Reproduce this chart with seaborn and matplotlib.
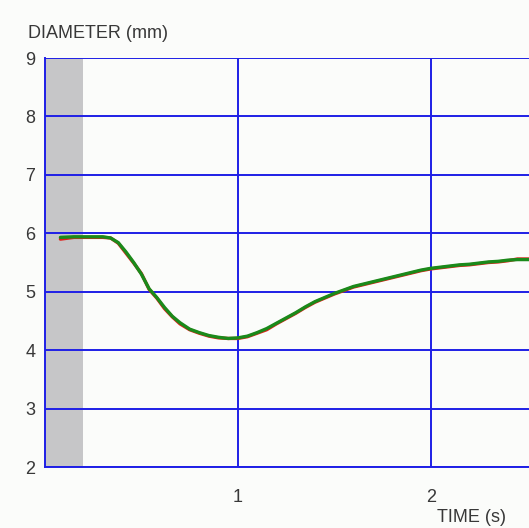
import numpy as np
import pandas as pd
import seaborn as sns
import matplotlib
matplotlib.use('Agg')
import matplotlib.pyplot as plt

time_s = [0.08, 0.15, 0.22, 0.30, 0.34, 0.38, 0.42, 0.46, 0.50, 0.54,
          0.58, 0.62, 0.66, 0.70, 0.75, 0.80, 0.85, 0.90, 0.95, 1.00,
          1.05, 1.10, 1.15, 1.20, 1.25, 1.30, 1.35, 1.40, 1.45, 1.50,
          1.55, 1.60, 1.65, 1.70, 1.75, 1.80, 1.85, 1.90, 1.95, 2.00,
          2.05, 2.10, 2.15, 2.20, 2.25, 2.30, 2.35, 2.40, 2.45, 2.51]
diam_green = [5.93, 5.94, 5.94, 5.94, 5.92, 5.84, 5.68, 5.50, 5.30, 5.05,
              4.90, 4.73, 4.58, 4.47, 4.36, 4.30, 4.25, 4.22, 4.20, 4.21,
              4.24, 4.30, 4.37, 4.46, 4.55, 4.64, 4.74, 4.83, 4.90, 4.97,
              5.03, 5.09, 5.13, 5.17, 5.21, 5.25, 5.29, 5.33, 5.37, 5.40,
              5.42, 5.44, 5.46, 5.47, 5.49, 5.51, 5.52, 5.54, 5.55, 5.55]
diam_red = [5.90, 5.93, 5.93, 5.93, 5.92, 5.83, 5.66, 5.49, 5.31, 5.04,
            4.89, 4.71, 4.57, 4.45, 4.35, 4.29, 4.24, 4.21, 4.20, 4.20,
            4.23, 4.29, 4.35, 4.45, 4.54, 4.63, 4.73, 4.82, 4.89, 4.96,
            5.02, 5.08, 5.12, 5.16, 5.20, 5.24, 5.28, 5.32, 5.36, 5.39,
            5.41, 5.43, 5.45, 5.46, 5.48, 5.50, 5.51, 5.53, 5.56, 5.56]
shade_end = 0.197
y_ticks = [2, 3, 4, 5, 6, 7, 8, 9]
x_ticks = [1, 2]

df = pd.DataFrame({'t': time_s, 'red': diam_red, 'green': diam_green})

sns.set_theme(style='white')
plt.rcParams['font.family'] = ['Liberation Sans', 'DejaVu Sans']

fig = plt.figure(figsize=(5.29, 5.28), dpi=100)
fig.patch.set_facecolor('#fbfcfa')
ax = fig.add_axes([45 / 529, 1 - 467 / 528, 1 - 45 / 529, (467 - 58) / 528])
ax.set_facecolor('#fbfcfa')

ax.axvspan(0, shade_end, color='#c6c6c8', zorder=0, lw=0)

blue = '#1f1fe6'
for y in y_ticks:
    ax.axhline(y, color=blue, lw=1.4, zorder=1)
for x in x_ticks:
    ax.axvline(x, color=blue, lw=1.4, zorder=1)

sns.lineplot(data=df, x='t', y='red', color='#e0201a', lw=2.4, ax=ax, zorder=3)
sns.lineplot(data=df, x='t', y='green', color='#1a8a1a', lw=2.4, ax=ax, zorder=4)

ax.set_xlim(0, 2.51)
ax.set_ylim(2, 9)
ax.set_xticks(x_ticks)
ax.set_yticks(y_ticks)
ax.set_xlabel('')
ax.set_ylabel('')
ax.tick_params(axis='both', length=0, labelsize=13, labelcolor='#383838')
ax.tick_params(axis='x', pad=16)
ax.tick_params(axis='y', pad=7)

for side in ['right', 'top']:
    ax.spines[side].set_visible(False)
ax.spines['left'].set_color(blue)
ax.spines['left'].set_linewidth(1.4)
ax.spines['bottom'].set_color(blue)
ax.spines['bottom'].set_linewidth(1.4)

fig.text(28 / 529, 1 - 34 / 528, 'DIAMETER (mm)', fontsize=13,
         color='#383838', va='center', ha='left')
fig.text(437 / 529, 1 - 518 / 528, 'TIME (s)', fontsize=13,
         color='#383838', va='center', ha='left')

fig.savefig('out.png', dpi=100, facecolor=fig.get_facecolor())
